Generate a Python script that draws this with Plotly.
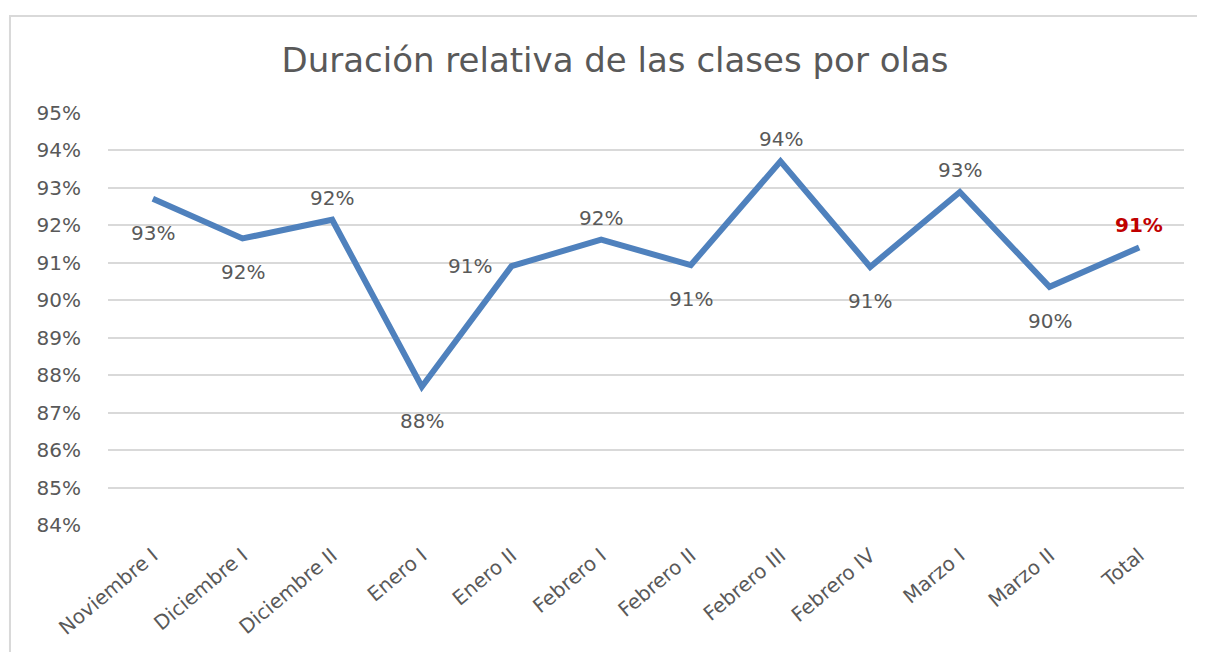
import plotly.graph_objects as go

# Datos
olas = ['Noviembre I', 'Diciembre I', 'Diciembre II', 'Enero I', 'Enero II',
        'Febrero I', 'Febrero II', 'Febrero III', 'Febrero IV', 'Marzo I',
        'Marzo II', 'Total']
duracion = [0.9271, 0.9165, 0.9215, 0.8769, 0.9091, 0.9162, 0.9094,
            0.9371, 0.9089, 0.9289, 0.9036, 0.9141]
# posición de la etiqueta: 'abajo', 'arriba' o 'izq'
posiciones = ['abajo', 'abajo', 'arriba', 'abajo', 'izq', 'arriba',
              'abajo', 'arriba', 'abajo', 'arriba', 'abajo', 'arriba']
y_ticks = [0.84 + i * 0.01 for i in range(12)]

colors = {
    'line': '#4f81bd',
    'text': '#595959',
    'grid': '#d9d9d9',
    'total': '#c00000',
}
fuente = 'DejaVu Sans'

fig = go.Figure()

fig.add_trace(go.Scatter(
    x=olas,
    y=duracion,
    mode='lines',
    line=dict(color=colors['line'], width=6),
    hoverinfo='skip',
    showlegend=False
))

# Etiquetas de datos (Total en rojo y negrita)
desplaz = {'abajo': (0, -34), 'arriba': (0, 22), 'izq': (-42, 0)}
for ola, v, pos in zip(olas, duracion, posiciones):
    es_total = ola == 'Total'
    dx, dy = desplaz[pos]
    fig.add_annotation(
        x=ola, y=v,
        text=f"<b>{v:.0%}</b>" if es_total else f"{v:.0%}",
        showarrow=False,
        xshift=dx, yshift=dy,
        xanchor='center', yanchor='middle',
        font=dict(family=fuente, size=20,
                  color=colors['total'] if es_total else colors['text'])
    )

fig.update_layout(
    width=1189,
    height=644,
    paper_bgcolor='white',
    plot_bgcolor='white',
    margin=dict(l=100, r=13, t=105, b=123),
    font=dict(family=fuente, color=colors['text']),
    title=dict(
        text='Duración relativa de las clases por olas',
        x=0.5105, xanchor='center',
        y=0.919, yanchor='middle',
        font=dict(size=34, color=colors['text'])
    ),
    shapes=[dict(
        type='rect', xref='paper', yref='paper',
        x0=-0.0911, x1=1.4, y0=-0.6, y1=1.2356,
        line=dict(color='#d9d9d9', width=2), layer='below'
    )]
)

fig.update_xaxes(
    range=[-0.5, len(olas) - 0.5],
    tickangle=-40,
    tickfont=dict(size=20, color=colors['text']),
    showgrid=False,
    showline=False,
    ticks='outside',
    ticklen=10,
    tickcolor='white'
)

fig.update_yaxes(
    range=[0.84, 0.95],
    tickvals=y_ticks,
    tickformat='.0%',
    tickfont=dict(size=20, color=colors['text']),
    showgrid=True,
    gridcolor=colors['grid'],
    gridwidth=2,
    zeroline=False,
    showline=False,
    ticks='outside',
    ticklen=22,
    tickcolor='white'
)

fig.write_html("out.html")
